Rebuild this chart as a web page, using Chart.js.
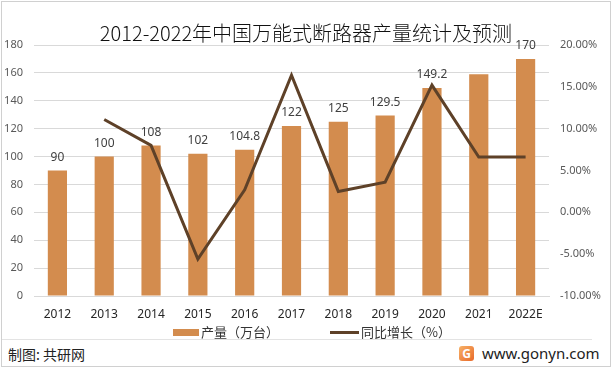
<!DOCTYPE html>
<html>
<head>
<meta charset="utf-8">
<script src="https://cdn.jsdelivr.net/npm/chart.js@4/dist/chart.umd.min.js"></script>
<style>
  html, body { margin: 0; padding: 0; background: #fff; }
  body { width: 612px; height: 368px; position: relative; overflow: hidden; font-family: "Noto Sans CJK SC", "Noto Sans", sans-serif; }
  #frame { position: absolute; left: 1px; top: 1px; width: 608px; height: 364px; border: 1px solid #d0d0d0; }
  #title { position: absolute; left: 0; width: 612px; top: 19px; text-align: center; font-size: 20px; font-weight: 300; color: #111; line-height: 28px; }
  #chartBox { position: absolute; left: 0; top: 0; width: 612px; height: 325px; }
  #legend { position: absolute; top: 323px; left: 0; width: 612px; height: 18px; font-size: 13px; color: #333; }
  .lg { position: absolute; top: 0; line-height: 18px; white-space: nowrap; }
  .sw-bar { display: inline-block; width: 26px; height: 7px; background: #D38C4E; vertical-align: middle; margin-right: 2px; position: relative; top: -1px; }
  .sw-line { display: inline-block; width: 29px; height: 3px; background: #5E4128; vertical-align: middle; margin-right: 2px; position: relative; top: -1px; }
  #sep { position: absolute; left: 2px; top: 339px; width: 590px; height: 1px; background: #e3e3e3; }
  #src { position: absolute; left: 8px; top: 344px; font-size: 14px; color: #222; line-height: 20px; }
  #site { position: absolute; left: 482px; top: 343px; font-size: 15px; color: #222; line-height: 20px; font-family: "Noto Sans", sans-serif; }
  #logo { position: absolute; left: 459px; top: 346px; width: 15px; height: 15px; border-radius: 3px; background: linear-gradient(135deg, #f7b267, #e8692a); color: #fff; font: bold 12px "Noto Sans", sans-serif; text-align: center; line-height: 15px; }
</style>
</head>
<body>
<div id="frame"></div>
<div id="chartBox"><canvas id="c"></canvas></div>
<div id="title">2012-2022年中国万能式断路器产量统计及预测</div>
<div id="legend">
  <div class="lg" style="left:173px;"><span class="sw-bar"></span>产量（万台）</div>
  <div class="lg" style="left:330px;"><span class="sw-line"></span>同比增长（%）</div>
</div>
<div id="sep"></div>
<div id="src">制图: 共研网</div>
<div id="logo">G</div>
<div id="site">www.gonyn.com</div>
<script>
const categories = ['2012','2013','2014','2015','2016','2017','2018','2019','2020','2021','2022E'];
const production = [90, 100, 108, 102, 104.8, 122, 125, 129.5, 149.2, 159, 170];
const productionLabels = ['90','100','108','102','104.8','122','125','129.5','149.2','','170'];
const growth = [null, 11.1, 8.0, -5.6, 2.7, 16.4, 2.5, 3.6, 15.2, 6.6, 6.6];
const leftTicks = {min: 0, max: 180, step: 20};
const rightTicks = {min: -10, max: 20, step: 5};

const barLabelPlugin = {
  id: 'barLabels',
  afterDatasetsDraw(chart) {
    const meta = chart.getDatasetMeta(1);
    const ctx = chart.ctx;
    ctx.save();
    ctx.font = '12px "Noto Sans", sans-serif';
    ctx.fillStyle = '#404040';
    ctx.textAlign = 'center';
    ctx.textBaseline = 'middle';
    meta.data.forEach((bar, i) => {
      const t = productionLabels[i];
      if (t) ctx.fillText(t, bar.x, bar.y - 13);
    });
    ctx.restore();
  }
};

new Chart(document.getElementById('c'), {
  data: {
    labels: categories,
    datasets: [
      {
        type: 'line',
        label: '同比增长（%）',
        data: growth,
        yAxisID: 'y1',
        borderColor: '#5E4128',
        borderWidth: 3,
        pointRadius: 0,
        tension: 0,
        order: 0
      },
      {
        type: 'bar',
        label: '产量（万台）',
        data: production,
        yAxisID: 'y',
        backgroundColor: '#D38C4E',
        barPercentage: 0.41,
        categoryPercentage: 1.0,
        order: 1
      }
    ]
  },
  options: {
    responsive: true,
    maintainAspectRatio: false,
    animation: false,
    layout: { padding: { left: 0, right: 0, top: 45, bottom: 0 } },
    plugins: { legend: { display: false }, title: { display: false }, tooltip: { enabled: false } },
    scales: {
      x: {
        grid: { display: false, drawTicks: false },
        border: { display: true, color: '#d9d9d9' },
        ticks: { padding: 11, color: '#262626', font: { size: 12, family: '"Noto Sans", sans-serif' }, maxRotation: 0 },
        afterFit(s) { s.height = 29; }
      },
      y: {
        position: 'left',
        min: leftTicks.min, max: leftTicks.max,
        grid: { color: '#d9d9d9', drawTicks: false },
        border: { display: false },
        ticks: { stepSize: leftTicks.step, padding: 11, color: '#595959', font: { size: 11, family: '"Noto Sans", sans-serif' } },
        afterFit(s) { s.width = 34; }
      },
      y1: {
        position: 'right',
        min: rightTicks.min, max: rightTicks.max,
        grid: { display: false, drawTicks: false },
        border: { display: false },
        ticks: { stepSize: rightTicks.step, padding: 11, color: '#595959', font: { size: 11, family: '"Noto Sans", sans-serif' }, callback: v => v.toFixed(2) + '%' },
        afterFit(s) { s.width = 63; }
      }
    }
  },
  plugins: [barLabelPlugin]
});
</script>
</body>
</html>
